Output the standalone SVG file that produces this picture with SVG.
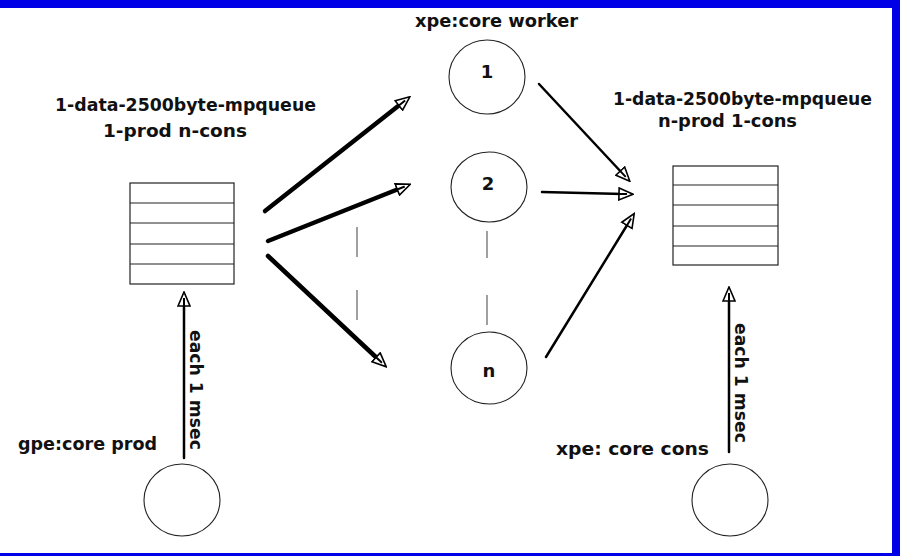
<svg xmlns="http://www.w3.org/2000/svg" width="900" height="556" viewBox="0 0 900 556">
  <style>
    .lbl { font-family: "DejaVu Sans", "Liberation Sans", sans-serif; font-weight: bold; font-size: 17px; fill: #111; }
    .num { font-family: "DejaVu Sans", "Liberation Sans", sans-serif; font-weight: bold; font-size: 18px; fill: #111; text-anchor: middle; }
    .node { fill: #fff; stroke: #222; stroke-width: 1.1; }
    .slot { fill: none; stroke: #222; stroke-width: 1.2; }
    .gap { stroke: #777; stroke-width: 1.4; }
    .heavy { stroke: #000; stroke-width: 4.5; stroke-linecap: round; fill: none; }
    .light { stroke: #000; stroke-width: 2.5; stroke-linecap: round; fill: none; }
  </style>
  <defs>
    <marker id="tip" viewBox="0 0 16 14" refX="5" refY="7" markerWidth="16" markerHeight="14" markerUnits="userSpaceOnUse" orient="auto">
      <path d="M1,1 L15,7 L1,13 Z" fill="#fff" stroke="#000" stroke-width="1.6"/>
      <path d="M1,7 L9,7" stroke="#000" stroke-width="2"/>
    </marker>
  </defs>

  <!-- frame -->
  <rect x="0" y="0" width="900" height="556" fill="#0000e6"/>
  <rect x="0" y="8" width="892" height="545" fill="#fff"/>

  <!-- connectors -->
  <g id="connectors">
    <line class="heavy" x1="265" y1="211" x2="402" y2="103" marker-end="url(#tip)"/>
    <line class="heavy" x1="268" y1="241" x2="401" y2="188" marker-end="url(#tip)"/>
    <line class="heavy" x1="268" y1="256" x2="379" y2="360" marker-end="url(#tip)"/>
    <line class="light" x1="539" y1="84" x2="623" y2="174" marker-end="url(#tip)"/>
    <line class="light" x1="542" y1="192" x2="623" y2="194" marker-end="url(#tip)"/>
    <line class="light" x1="546" y1="357" x2="629" y2="222" marker-end="url(#tip)"/>
    <line class="light" x1="184" y1="458" x2="184" y2="302" stroke-width="3" marker-end="url(#tip)"/>
    <line class="light" x1="729" y1="452" x2="729" y2="297" stroke-width="3" marker-end="url(#tip)"/>
    <!-- elision marks between workers -->
    <line class="gap" x1="357" y1="227" x2="357" y2="257"/>
    <line class="gap" x1="357" y1="290" x2="357" y2="320"/>
    <line class="gap" x1="487" y1="231" x2="487" y2="258"/>
    <line class="gap" x1="487" y1="295" x2="487" y2="325"/>
  </g>

  <!-- left queue: 1 producer, n consumers -->
  <g id="queue-in">
    <rect class="slot" x="130" y="183" width="104" height="101"/>
    <line class="slot" x1="130" y1="203" x2="234" y2="203"/>
    <line class="slot" x1="130" y1="223" x2="234" y2="223"/>
    <line class="slot" x1="130" y1="244" x2="234" y2="244" stroke="#777"/>
    <line class="slot" x1="130" y1="264" x2="234" y2="264"/>
    <text class="lbl" x="55" y="111" textLength="261" lengthAdjust="spacingAndGlyphs">1-data-2500byte-mpqueue</text>
    <text class="lbl" x="103" y="137" textLength="144" lengthAdjust="spacingAndGlyphs">1-prod n-cons</text>
  </g>

  <!-- right queue: n producers, 1 consumer -->
  <g id="queue-out">
    <rect class="slot" x="673" y="166" width="105" height="99"/>
    <line class="slot" x1="673" y1="185" x2="778" y2="185" stroke="#777"/>
    <line class="slot" x1="673" y1="205" x2="778" y2="205"/>
    <line class="slot" x1="673" y1="226" x2="778" y2="226"/>
    <line class="slot" x1="673" y1="246" x2="778" y2="246"/>
    <text class="lbl" x="613" y="105" textLength="259" lengthAdjust="spacingAndGlyphs">1-data-2500byte-mpqueue</text>
    <text class="lbl" x="658" y="127" textLength="139" lengthAdjust="spacingAndGlyphs">n-prod 1-cons</text>
  </g>

  <!-- workers -->
  <g id="workers-title">
    <text class="lbl" x="415" y="27" textLength="163" lengthAdjust="spacingAndGlyphs">xpe:core worker</text>
  </g>
  <g id="worker-1">
    <ellipse class="node" cx="487" cy="77" rx="38" ry="37"/>
    <text class="num" x="487" y="78">1</text>
  </g>
  <g id="worker-2">
    <ellipse class="node" cx="489" cy="187" rx="38" ry="35"/>
    <text class="num" x="488" y="190">2</text>
  </g>
  <g id="worker-n">
    <ellipse class="node" cx="489" cy="368" rx="38" ry="36"/>
    <text class="num" x="489" y="377">n</text>
  </g>

  <!-- producer core -->
  <g id="producer">
    <ellipse class="node" cx="182" cy="500" rx="38" ry="36"/>
    <text class="lbl" x="18" y="450" textLength="139" lengthAdjust="spacingAndGlyphs">gpe:core prod</text>
    <text class="lbl" transform="translate(190,330) rotate(90)" textLength="120" lengthAdjust="spacingAndGlyphs">each 1 msec</text>
  </g>

  <!-- consumer core -->
  <g id="consumer">
    <ellipse class="node" cx="730" cy="500" rx="38" ry="36"/>
    <text class="lbl" x="556" y="455" textLength="153" lengthAdjust="spacingAndGlyphs">xpe: core cons</text>
    <text class="lbl" transform="translate(735,323) rotate(90)" textLength="120" lengthAdjust="spacingAndGlyphs">each 1 msec</text>
  </g>
</svg>
